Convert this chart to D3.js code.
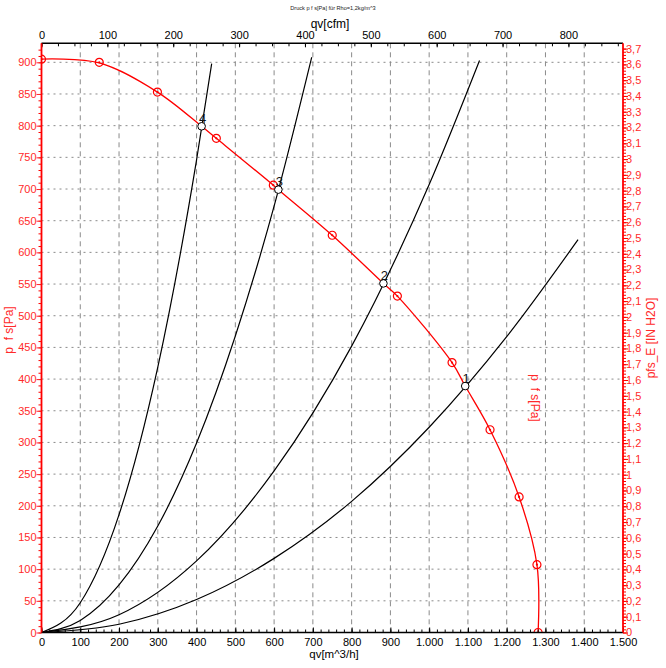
<!DOCTYPE html>
<html>
<head>
<meta charset="utf-8">
<script src="https://cdn.jsdelivr.net/npm/d3@7"></script>
<style>
  html, body { margin: 0; padding: 0; background: #fff; }
  svg { display: block; font-family: "Liberation Sans", Arial, sans-serif; }
</style>
</head>
<body>
<svg id="chart" width="666" height="668"></svg>
<script>
// ---------------- DATA ----------------
// Fan curve (red): flow [m^3/h] and static pressure [Pa]
const fanCurveQ = [0, 149, 299, 413, 451, 598, 611, 750, 882, 918, 1059, 1093, 1157, 1232, 1278, 1281];
const fanCurveP = [905, 899, 853, 799, 780, 706, 699, 627, 551, 531, 426, 389, 320, 214, 107, 0];
// Red measurement markers on the fan curve
const markerQ = [0, 149, 299, 451, 598, 750, 918, 1059, 1157, 1232, 1278, 1281];
const markerP = [905, 900, 853, 780, 706, 627, 531, 426, 320, 214, 107, 0];
// Operating points (black circles) and their labels
const opLabels = ["1", "2", "3", "4"];
const opQ = [1093, 882, 611, 413];
const opP = [389, 551, 699, 799];
// System curves (black)
const sys1Q = [0, 200, 400, 600, 800, 1000, 1200, 1384];
const sys1P = [0, 13, 52, 117, 207, 324, 467, 620];
const sys2Q = [0, 200, 400, 600, 800, 1000, 1130];
const sys2P = [0, 28, 113, 255, 452, 707, 903];
const sys3Q = [0, 100, 200, 300, 400, 500, 600, 697];
const sys3P = [0, 19, 75, 168, 299, 468, 673, 908];
const sys4Q = [0, 100, 200, 300, 400, 439];
const sys4P = [0, 47, 186, 419, 746, 898];
// Axis ticks
const xTicksMajor = d3.range(0, 1501, 100);      // m^3/h
const xTicksMinor = d3.range(0, 1501, 20);
const cfmTicksMajor = d3.range(0, 801, 100);     // cfm
const cfmTicksMinor = d3.range(0, 876, 25);
const yTicksMajor = d3.range(0, 901, 50);        // Pa
const yTicksMinor = d3.range(0, 921, 10);
const inTicksMajor = d3.range(0, 38, 1).map(d => d / 10);   // in H2O
const inTickLabels = ["0","0,1","0,2","0,3","0,4","0,5","0,6","0,7","0,8","0,9",
  "1","1,1","1,2","1,3","1,4","1,5","1,6","1,7","1,8","1,9",
  "2","2,1","2,2","2,3","2,4","2,5","2,6","2,7","2,8","2,9",
  "3","3,1","3,2","3,3","3,4","3,5","3,6","3,7"];
const inTicksMinor = d3.range(0, 186, 1).map(d => d / 50);
// Texts
const titleText = "Druck p f s[Pa] für Rho=1,2kg/m^3";
const xTitle = "qv[m^3/h]";
const topTitle = "qv[cfm]";
const yTitle = "p  f s[Pa]";
const y2Title = "pfs_E [IN H2O]";
const curveLabel = "p  f s[Pa]";

// ---------------- CONSTANTS ----------------
const CFM_PER_M3H = 0.588578;
const PA_PER_INH2O = 249.089;
const RED = "#ff0000";
const RED_TXT = "#ff2a2a";

// ---------------- SCALES ----------------
const L = 41.5, R = 623, T = 43.3, B = 632.5;
const x = d3.scaleLinear().domain([0, 1500]).range([L, R]);
const xCfm = d3.scaleLinear().domain([0, 1500 * CFM_PER_M3H]).range([L, R]);
const y = d3.scaleLinear().domain([0, 930]).range([B, T]);
const yIn = d3.scaleLinear().domain([0, 930 / PA_PER_INH2O]).range([B, T]);

const loc = d3.formatLocale({ decimal: ",", thousands: ".", grouping: [3], currency: ["", ""] });
const fmtX = loc.format(",d");

const svg = d3.select("#chart");

svg.append("defs").append("clipPath").attr("id", "plotClip")
  .append("rect").attr("x", L).attr("y", T).attr("width", R - L).attr("height", B - T);

// ---------------- GRID ----------------
const grid = svg.append("g");
grid.append("g").selectAll("line").data(yTicksMajor.filter(d => d > 0)).join("line")
  .attr("x1", L).attr("x2", R).attr("y1", d => y(d)).attr("y2", d => y(d))
  .attr("stroke", "#8a8a8a").attr("stroke-width", 1).attr("stroke-dasharray", "2,4");
grid.append("g").selectAll("line").data(xTicksMajor.filter(d => d > 0 && d < 1500)).join("line")
  .attr("x1", d => x(d)).attr("x2", d => x(d)).attr("y1", T).attr("y2", B)
  .attr("stroke", "#8a8a8a").attr("stroke-width", 1).attr("stroke-dasharray", "5,4");

// ---------------- CURVES ----------------
const plot = svg.append("g").attr("clip-path", "url(#plotClip)");
const line = d3.line().x(d => x(d[0])).y(d => y(d[1])).curve(d3.curveMonotoneX);
const fanLine = d3.line().x(d => x(d[0])).y(d => y(d[1])).curve(d3.curveCatmullRom.alpha(0.5));
const zip = (a, b) => a.map((v, i) => [v, b[i]]);

[[sys1Q, sys1P], [sys2Q, sys2P], [sys3Q, sys3P], [sys4Q, sys4P]].forEach(([q, p]) => {
  plot.append("path").datum(zip(q, p)).attr("d", line)
    .attr("fill", "none").attr("stroke", "#000").attr("stroke-width", 1.2);
});

plot.append("path").datum(zip(fanCurveQ, fanCurveP)).attr("d", fanLine)
  .attr("fill", "none").attr("stroke", RED).attr("stroke-width", 1.3);

const mk = plot.append("g").selectAll("g").data(zip(markerQ, markerP)).join("g")
  .attr("transform", d => `translate(${x(d[0])},${y(d[1])})`);
mk.append("circle").attr("r", 4).attr("fill", "none").attr("stroke", RED).attr("stroke-width", 1.2);
mk.append("circle").attr("r", 1.1).attr("fill", RED);

const op = svg.append("g").selectAll("g").data(opLabels.map((l, i) => ({ l, q: opQ[i], p: opP[i] }))).join("g")
  .attr("transform", d => `translate(${x(d.q)},${y(d.p)})`);
op.append("circle").attr("r", 3.8).attr("fill", "#fff").attr("stroke", "#000").attr("stroke-width", 1);
op.append("text").attr("x", 1).attr("y", -3.5).attr("text-anchor", "middle")
  .attr("font-size", 13).attr("fill", "#111").text(d => d.l);

// ---------------- AXES ----------------
function styleAxis(g, color) {
  g.selectAll("path.domain").remove();
  g.selectAll("line").attr("stroke", color);
  g.selectAll("text").attr("fill", color).attr("font-size", 11)
    .attr("font-family", "'Liberation Sans', Arial, sans-serif");
}

// bottom (m^3/h)
svg.append("g").attr("transform", `translate(0,${B})`)
  .call(d3.axisBottom(x).tickValues(xTicksMinor).tickSize(-3).tickFormat(""))
  .call(g => styleAxis(g, "#000"));
svg.append("g").attr("transform", `translate(0,${B})`)
  .call(d3.axisBottom(x).tickValues(xTicksMajor).tickSize(-5).tickPadding(6).tickFormat(fmtX))
  .call(g => styleAxis(g, "#000"));

// top (cfm)
svg.append("g").attr("transform", `translate(0,${T})`)
  .call(d3.axisTop(xCfm).tickValues(cfmTicksMinor).tickSize(-3).tickFormat(""))
  .call(g => styleAxis(g, "#000"));
svg.append("g").attr("transform", `translate(0,${T})`)
  .call(d3.axisTop(xCfm).tickValues(cfmTicksMajor).tickSize(-4).tickPadding(4).tickFormat(d3.format("d")))
  .call(g => styleAxis(g, "#000"));

// left (Pa)
svg.append("g").attr("transform", `translate(${L},0)`)
  .call(d3.axisLeft(y).tickValues(yTicksMinor).tickSize(3).tickFormat(""))
  .call(g => styleAxis(g, RED));
svg.append("g").attr("transform", `translate(${L},0)`)
  .call(d3.axisLeft(y).tickValues(yTicksMajor).tickSize(5).tickPadding(0).tickFormat(d3.format("d")))
  .call(g => styleAxis(g, RED_TXT));

// right (in H2O)
svg.append("g").attr("transform", `translate(${R},0)`)
  .call(d3.axisRight(yIn).tickValues(inTicksMinor).tickSize(3).tickFormat(""))
  .call(g => styleAxis(g, RED));
svg.append("g").attr("transform", `translate(${R},0)`)
  .call(d3.axisRight(yIn).tickValues(inTicksMajor).tickSize(5).tickFormat(""))
  .call(g => styleAxis(g, RED));
svg.append("g").selectAll("text").data(inTicksMajor).join("text")
  .attr("x", R + 3).attr("y", d => yIn(d)).attr("dy", "0.36em")
  .attr("font-size", 11).attr("fill", RED_TXT).text((d, i) => inTickLabels[i]);

// frame lines
svg.append("line").attr("x1", L).attr("x2", R).attr("y1", T).attr("y2", T).attr("stroke", "#000").attr("stroke-width", 1.6);
svg.append("line").attr("x1", L).attr("x2", R).attr("y1", B).attr("y2", B).attr("stroke", "#000").attr("stroke-width", 1.6);
svg.append("line").attr("x1", L).attr("x2", L).attr("y1", T).attr("y2", B).attr("stroke", RED).attr("stroke-width", 1.8);
svg.append("line").attr("x1", R).attr("x2", R).attr("y1", T).attr("y2", B).attr("stroke", RED).attr("stroke-width", 1.8);

// ---------------- TITLES ----------------
svg.append("text").attr("x", 333).attr("y", 10).attr("text-anchor", "middle")
  .attr("font-size", 5.6).attr("fill", "#222").text(titleText);
svg.append("text").attr("x", 330).attr("y", 28).attr("text-anchor", "middle")
  .attr("font-size", 12).attr("fill", "#000").text(topTitle);
svg.append("text").attr("x", 334).attr("y", 658).attr("text-anchor", "middle")
  .attr("font-size", 11.5).attr("fill", "#000").text(xTitle);
svg.append("text").attr("transform", "translate(13,330) rotate(-90)").attr("text-anchor", "middle")
  .attr("font-size", 12).attr("fill", RED_TXT).style("white-space", "pre").text(yTitle);
svg.append("text").attr("transform", "translate(655,338) rotate(-90)").attr("text-anchor", "middle")
  .attr("font-size", 12).attr("fill", RED_TXT).text(y2Title);
svg.append("text").attr("transform", "translate(531,398) rotate(90)").attr("text-anchor", "middle")
  .attr("font-size", 12).attr("fill", RED_TXT).style("white-space", "pre").text(curveLabel);
</script>
</body>
</html>
